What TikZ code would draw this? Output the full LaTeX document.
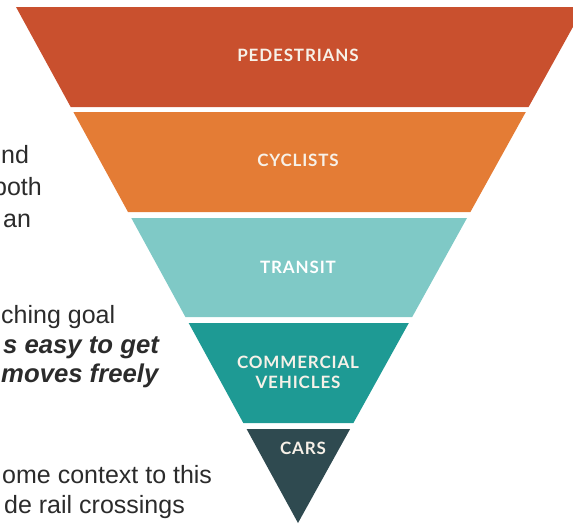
\documentclass[tikz,border=0pt]{standalone}
\usepackage{fontspec}
\setmainfont{Liberation Sans}
\newfontfamily\bandfont[LetterSpace=5]{Lato}
\definecolor{pedred}{HTML}{C9502E}
\definecolor{cycorange}{HTML}{E47C35}
\definecolor{tranteal}{HTML}{7FC9C6}
\definecolor{comteal}{HTML}{1E9A94}
\definecolor{carslate}{HTML}{2F4A50}
\definecolor{bodygray}{HTML}{2B2B2B}
\definecolor{labelwhite}{HTML}{F7F1E8}
\begin{document}
\begin{tikzpicture}[x=1pt,y=-1pt,
    bodytext/.style={anchor=base west, inner sep=0pt, text=bodygray, font=\fontsize{25}{30}\selectfont},
    boldtext/.style={bodytext, font=\fontsize{25.7}{30}\selectfont\bfseries\itshape},
    bandlabel/.style={inner sep=0pt, align=center, text=labelwhite, font=\bandfont\bfseries\fontsize{17}{20}\selectfont}]
        \useasboundingbox (0,0) rectangle (573,525);
        \clip (0,0) rectangle (573,525);

        % slide text behind the pyramid
        \node[bodytext] (t1) at (1,163) {nd};
        \node[bodytext] (t2) at (-7,195) {both};
        \node[bodytext] (t3) at (3,227) {an};
        \node[bodytext] (t4) at (1,323) {ching goal};
        \node[boldtext] (t5) at (3,353) {s easy to get};
        \node[boldtext] (t6) at (1,382) {moves freely};
        \node[bodytext] (t7) at (2,483) {ome context to this};
        \node[bodytext] (t8) at (4,513) {de rail crossings};

        % the bands
        \fill[pedred] (16,7) -- (584,7) -- (528.6,107) -- (70.7,107) -- cycle;
        \fill[cycorange] (73.4,112) -- (525.8,112) -- (470.4,212) -- (128,212) -- cycle;
        \fill[tranteal] (131.3,218) -- (467,218) -- (412.2,317) -- (185.4,317) -- cycle;
        \fill[comteal] (188.7,323) -- (408.8,323) -- (353.4,423) -- (243.3,423) -- cycle;
        \fill[carslate] (246.6,429) -- (350.1,429) -- (298,523) -- cycle;

        \node[bandlabel] (ped) at (298,55) {PEDESTRIANS};
        \node[bandlabel] (cyc) at (298,160) {CYCLISTS};
        \node[bandlabel, text=white] (tra) at (298,267) {TRANSIT};
        \node[bandlabel] (com) at (298,372) {COMMERCIAL\\VEHICLES};
        \node[bandlabel] (car) at (303,448) {CARS};
    \end{tikzpicture}
\end{document}
